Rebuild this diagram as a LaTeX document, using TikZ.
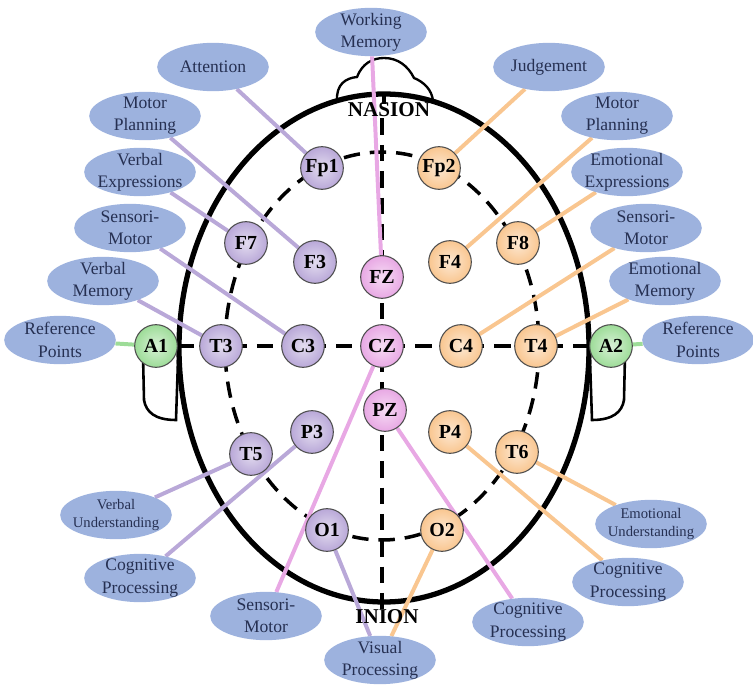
\documentclass[tikz,border=0pt]{standalone}
\usepackage{fontspec}
\setmainfont{Liberation Serif}
\usetikzlibrary{shapes.geometric,backgrounds}

\definecolor{lobeblue}{HTML}{9DB2DE}
\definecolor{lobetext}{HTML}{263052}
\definecolor{leftpurple}{HTML}{B9A8D8}
\definecolor{rightorange}{HTML}{F9C690}
\definecolor{midpink}{HTML}{E8A8E4}
\definecolor{refgreen}{HTML}{9DDC98}

\begin{document}
\begin{tikzpicture}
[x=0.03cm,y=-0.03cm,
function text/.style={ellipse,fill=lobeblue,text=lobetext,align=center,
  inner xsep=-4pt,inner ysep=-6pt,minimum width=3.35cm,minimum height=1.45cm,
  font=\fontsize{15}{19}\selectfont},
small text/.style={function text,font=\fontsize{12.5}{16}\selectfont},
electrode/.style={circle,draw=black!70,line width=0.9pt,inner color=#1!40!white,
  outer color=#1,minimum size=1.28cm,inner sep=0pt,
  font=\fontsize{17}{17}\selectfont\bfseries},
wire/.style={line width=3.4pt,draw=#1},
dashed line/.style={line width=3pt,dash pattern=on 14pt off 8.5pt},
landmark/.style={font=\fontsize{18}{18}\selectfont\bfseries,inner sep=1pt}]

\useasboundingbox (0,0) rectangle (753,685);

% electrodes
\foreach \name/\x/\y in {Fp1/322/168,F7/246/243,F3/315/262,T3/221/346,
  C3/303/346,T5/251/454,P3/312/432,O1/327/530}
  \node[electrode=leftpurple] (\name) at (\x,\y) {\name};
\foreach \name/\x/\y in {Fp2/439/168,F8/518/243,F4/450/262,C4/461/346,
  T4/536/346,P4/450/432,T6/517/452,O2/442/530}
  \node[electrode=rightorange] (\name) at (\x,\y) {\name};
\foreach \name/\x/\y in {FZ/382/277,CZ/382/346,PZ/385/410}
  \node[electrode=midpink] (\name) at (\x,\y) {\name};
\node[electrode=refgreen] (A1) at (156,346) {A1};
\node[electrode=refgreen] (A2) at (611,346) {A2};

% landmarks
\node[landmark] (nasion) at (389,110) {NASION};
\node[landmark] (inion) at (387,617) {INION};

% functions
\node[function text] (working) at (371,32) {Working\\Memory};
\node[function text] (attention) at (213,67) {Attention};
\node[function text] (judgement) at (549,67) {Judgement};
\node[function text] (planningL) at (145,116) {Motor\\Planning};
\node[function text] (planningR) at (617,116) {Motor\\Planning};
\node[function text] (verbalE) at (140,172) {Verbal\\Expressions};
\node[function text] (emotionalE) at (627,172) {Emotional\\Expressions};
\node[function text] (sensoriL) at (130,228) {Sensori-\\Motor};
\node[function text] (sensoriR) at (646,228) {Sensori-\\Motor};
\node[function text] (verbalM) at (103,281) {Verbal\\Memory};
\node[function text] (emotionalM) at (665,281) {Emotional\\Memory};
\node[function text] (refL) at (60,340) {Reference\\Points};
\node[function text] (refR) at (698,340) {Reference\\Points};
\node[small text] (verbalU) at (116,515) {Verbal\\Understanding};
\node[small text] (emotionalU) at (651,524) {Emotional\\Understanding};
\node[function text] (cognitiveL) at (140,578) {Cognitive\\Processing};
\node[function text] (cognitiveR) at (628,582) {Cognitive\\Processing};
\node[function text] (cognitiveB) at (528,622) {Cognitive\\Processing};
\node[function text] (sensoriB) at (266,616) {Sensori-\\Motor};
\node[function text] (visual) at (380,660) {Visual\\Processing};

\begin{scope}[on background layer]
% head, nose and ears
\draw[line width=4.5pt] (384,348) ellipse [x radius=205,y radius=254];
\draw[line width=2pt] (337,101) .. controls (336,84) and (346,78) .. (357,77)
  .. controls (362,64) and (372,58) .. (384,58)
  .. controls (398,58) and (408,66) .. (414,78)
  .. controls (424,82) and (432,90) .. (433,101);
\draw[line width=2.2pt] (143,355) -- (144,400) .. controls (146,412) and (155,420) .. (176,420) -- (178,360);
\draw[line width=2.2pt] (625,355) -- (624,400) .. controls (622,412) and (613,420) .. (592,420) -- (590,360);

% 10-20 grid
\draw[dashed line] (382,346) ellipse [x radius=157,y radius=194];
\draw[dashed line] (A1) -- (A2);
\draw[line width=3pt] (384,94) -- (384,104);
\draw[dashed line] (nasion.south -| CZ) -- (inion.north -| CZ);

% wires from functions to electrodes
\foreach \f/\e in {attention/Fp1,planningL/F3,verbalE/F7,sensoriL/C3,
  verbalM/T3,verbalU/T5,cognitiveL/P3,visual/O1}
  \draw[wire=leftpurple] (\f) -- (\e);
\foreach \f/\e in {judgement/Fp2,planningR/F4,emotionalE/F8,sensoriR/C4,
  emotionalM/T4,emotionalU/T6,cognitiveR/P4,visual/O2}
  \draw[wire=rightorange] (\f) -- (\e);
\foreach \f/\e in {working/FZ,sensoriB/CZ,cognitiveB/PZ}
  \draw[wire=midpink] (\f) -- (\e);
\draw[wire=refgreen] (refL) -- (A1);
\draw[wire=refgreen] (refR) -- (A2);
\end{scope}
\end{tikzpicture}
\end{document}
